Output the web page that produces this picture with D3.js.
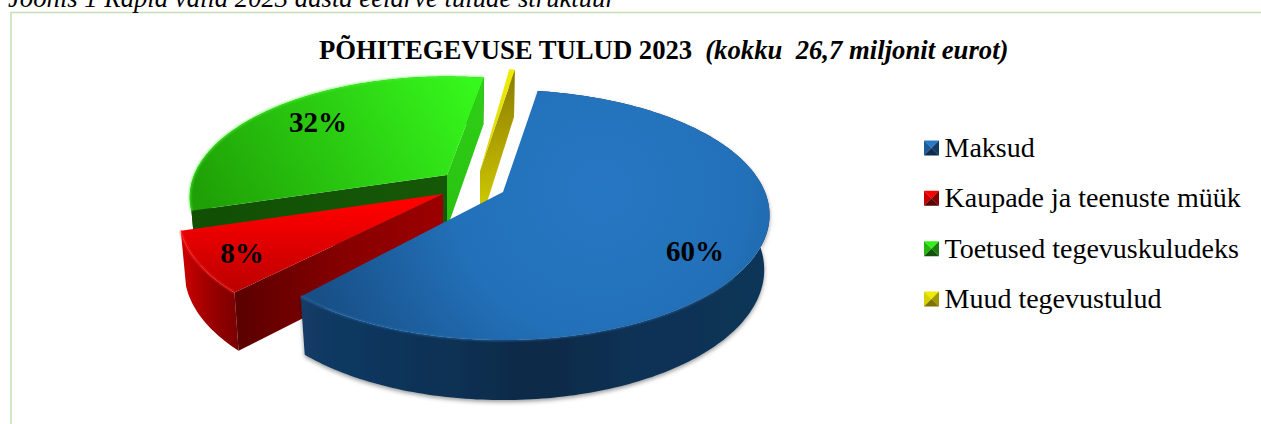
<!DOCTYPE html>
<html lang="et">

<head>
	<title>Põhitegevuse tulud 2023</title>
	<meta charset="utf-8">
	<script src="https://d3js.org/d3.v7.min.js"></script>
	<style>
		html, body { margin: 0; padding: 0; background: #fff; overflow: hidden; }
		text { font-family: "Liberation Serif", serif; fill: #000; white-space: pre; }
	</style>
</head>

<body>
	<div id="container"></div>
	<script>
		// Data
		const categories = ["Maksud", "Kaupade ja teenuste müük", "Toetused tegevuskuludeks", "Muud tegevustulud"];
		const shares = [59.8, 8, 31.8, 0.4];
		const caption = "Joonis 1 Rapla valla 2023 aasta eelarve tulude struktuur";
		const titleMain = "PÕHITEGEVUSE TULUD 2023";
		const titleNote = "(kokku  26,7 miljonit eurot)";

		// Exploded slice placement, screen position of each slice's tip
		const tipX = [503, 443, 447, 480];
		const tipY = [192, 194, 175, 171];
		const sliceScale = [1, 0.99, 0.965, 1];
		// Degrees added to the far end of a slice (the picture's perspective is not quite a true one)
		const endNudge = [-2.5, 0, 2.4, 0];
		// Which flat sides face the viewer
		const showStart = [false, true, true, false];
		const showEnd = [false, false, true, true];
		// Where the bevelled rim starts on each slice, in degrees past its start
		const rimFrom = [120, 0, 0, 0];
		const labelX = [695, 242, 318];
		const labelY = [261, 263, 132];

		// Slice colours
		const topColors = [
			["#2677c4", "#184f86"], ["#ff0000", "#b80000"], ["#36f81c", "#1fa006"], ["#f0ec00", "#d8d400"]
		];
		const edgeColors = ["#2a6bab", "#ff2a2a", "#48f530", "#f4f000"];
		const keyColors = [
			["#2a78c6", "#1c5a98", "#123a64", "#0d2c4d"],
			["#ff0000", "#c80000", "#800000", "#5a0000"],
			["#30f018", "#22b80e", "#1a7c10", "#0f5208"],
			["#f0ea00", "#d8d200", "#a09800", "#7c7400"]
		];

		const width = 1261;
		const height = 424;

		// Perspective of the disc: the front of the pie is nearer than the back
		const rx = 262;
		const ry = 120.8;
		const tilt = 0.184;
		const rad = Math.PI / 180;

		function project(i, angle, r, z) {
			const X = Math.sin(angle) * r;
			const Y = -Math.cos(angle) * r;
			const s = 1 / (1 - tilt * Y) * sliceScale[i];
			const depth = 53.5 + 6.5 * Y;
			return [
				tipX[i] + rx * X * s * (1 - 0.02 * z),
				tipY[i] + ry * Y * s + depth * z
			];
		}

		const line = d3.line();

		const pie = d3.pie()
			.sort(null)
			.startAngle(9 * rad)
			.endAngle(369 * rad);
		const slices = pie(shares).map((d, i) => ({
			...d,
			endAngle: d.endAngle + endNudge[i] * rad
		}));

		function arcPoints(i, d, z, from = 0) {
			const a0 = d.startAngle + from * rad;
			const n = Math.max(4, Math.ceil((d.endAngle - a0) / rad));
			return d3.range(n + 1).map(k => project(i, a0 + (d.endAngle - a0) * k / n, 1, z));
		}

		const svg = d3.select("#container")
			.append("svg")
			.attr("width", width)
			.attr("height", height)
			.style("display", "block");

		const defs = svg.append("defs");

		function linearGradient(id, x1, y1, x2, y2, stops) {
			const g = defs.append("linearGradient")
				.attr("id", id)
				.attr("gradientUnits", "userSpaceOnUse")
				.attr("x1", x1).attr("y1", y1).attr("x2", x2).attr("y2", y2);
			stops.forEach((c, k) => g.append("stop")
				.attr("offset", k / (stops.length - 1))
				.attr("stop-color", c));
		}

		// Top faces
		const blueTop = defs.append("radialGradient")
			.attr("id", "top0")
			.attr("gradientUnits", "userSpaceOnUse")
			.attr("cx", 600).attr("cy", 190).attr("r", 300);
		blueTop.append("stop").attr("offset", 0).attr("stop-color", topColors[0][0]);
		blueTop.append("stop").attr("offset", 0.5).attr("stop-color", "#2270b8");
		blueTop.append("stop").attr("offset", 1).attr("stop-color", topColors[0][1]);
		linearGradient("top1", 0, 205, 0, 295, topColors[1]);
		linearGradient("top2", 470, 80, 220, 230, topColors[2]);
		linearGradient("top3", 0, 70, 0, 170, topColors[3]);

		// Curved sides
		linearGradient("outer0", 300, 0, 770, 0, ["#123b66", "#0f3358", "#0c2a48", "#0f3256", "#103558"]);
		linearGradient("outer1", 180, 0, 240, 0, ["#d00000", "#9c0000", "#760000"]);
		linearGradient("outer2", 190, 0, 480, 0, ["#135406", "#135406"]);
		linearGradient("outer3", 510, 0, 515, 0, ["#a89c00", "#a89c00"]);

		// Flat sides
		linearGradient("startWall1", 443, 0, 240, 0, ["#9c0000", "#860000", "#5c0000"]);
		linearGradient("startWall2", 190, 0, 447, 0, ["#114f04", "#135406", "#155806"]);
		linearGradient("endWall2", 0, 80, 0, 215, ["#2fd016", "#2ac212"]);
		linearGradient("endWall3", 0, 75, 0, 215, ["#8c7e00", "#b0a400", "#d2ce00"]);

		const soft = defs.append("filter")
			.attr("id", "soft")
			.attr("x", "-5%").attr("y", "-5%").attr("width", "110%").attr("height", "110%");
		soft.append("feGaussianBlur").attr("stdDeviation", 0.8);

		const shadow = defs.append("filter")
			.attr("id", "shadow")
			.attr("x", "-5%").attr("y", "-5%").attr("width", "110%").attr("height", "115%");
		shadow.append("feDropShadow")
			.attr("dx", 0).attr("dy", 2)
			.attr("stdDeviation", 2)
			.attr("flood-color", "#000")
			.attr("flood-opacity", 0.4);

		// Page furniture
		svg.append("path")
			.attr("d", line([[width, 12.5], [11, 12.5], [11, height]]))
			.attr("fill", "none")
			.attr("stroke", "#c5e0b3")
			.attr("stroke-width", 1.5);

		svg.append("text")
			.attr("x", 8)
			.attr("y", 7)
			.style("font-size", "26.7px")
			.style("font-style", "italic")
			.text(caption);

		const title = svg.append("text")
			.attr("x", 319)
			.attr("y", 59)
			.style("font-size", "26.7px")
			.style("font-weight", "700");
		title.append("tspan").text(titleMain);
		title.append("tspan").attr("dx", 13).style("font-style", "italic").text(titleNote);

		// Slices, back to front
		const order = [3, 2, 1, 0];
		const wrapper = svg.append("g");

		order.forEach(i => {
			const d = slices[i];
			const g = wrapper.append("g").attr("class", "slice");

			const tipTop = project(i, 0, 0, 0);
			const tipBottom = [tipTop[0], tipTop[1] + 53.5];

			// Curved side
			const outer = arcPoints(i, d, 0).concat(arcPoints(i, d, 1).reverse());
			g.append("path")
				.attr("d", line(outer) + "Z")
				.attr("fill", `url(#outer${i})`)
				.attr("filter", i === 0 ? "url(#shadow)" : null);

			// Flat sides
			if (showStart[i]) {
				g.append("path")
					.attr("d", line([tipTop, project(i, d.startAngle, 1, 0), project(i, d.startAngle, 1, 1), tipBottom]) + "Z")
					.attr("fill", `url(#startWall${i})`);
			}
			if (showEnd[i]) {
				g.append("path")
					.attr("d", line([tipTop, project(i, d.endAngle, 1, 0), project(i, d.endAngle, 1, 1), tipBottom]) + "Z")
					.attr("fill", `url(#endWall${i})`);
			}

			// Top face
			g.append("path")
				.attr("d", line([tipTop].concat(arcPoints(i, d, 0))) + "Z")
				.attr("fill", `url(#top${i})`);

			// Bevelled rim
			g.append("path")
				.attr("d", line(arcPoints(i, d, 0, rimFrom[i])))
				.attr("fill", "none")
				.attr("stroke", edgeColors[i])
				.attr("stroke-width", 1.4)
				.attr("filter", "url(#soft)");
		});

		// Percent labels
		svg.selectAll(".label")
			.data(slices.filter(d => d.value >= 1))
			.enter()
			.append("text")
			.attr("class", "label")
			.attr("x", (d, i) => labelX[i])
			.attr("y", (d, i) => labelY[i])
			.attr("text-anchor", "middle")
			.style("font-size", "29px")
			.style("font-weight", "700")
			.text(d => `${Math.round(d.value)}%`);

		// Legend
		const legendY = d3.scalePoint()
			.domain(categories)
			.range([148, 299]);

		const legend = svg.selectAll(".legend")
			.data(categories)
			.enter()
			.append("g")
			.attr("class", "legend")
			.attr("transform", d => `translate(924,${legendY(d)})`);

		const keySize = 15;
		const keyFaces = [
			[[0, 0], [keySize, 0], [keySize / 2, keySize / 2]],
			[[0, 0], [0, keySize], [keySize / 2, keySize / 2]],
			[[keySize, 0], [keySize, keySize], [keySize / 2, keySize / 2]],
			[[0, keySize], [keySize, keySize], [keySize / 2, keySize / 2]]
		];

		legend.each(function (d, i) {
			const key = d3.select(this).append("g").attr("transform", `translate(0,${-keySize / 2})`);
			keyFaces.forEach((face, k) => key.append("path")
				.attr("d", line(face) + "Z")
				.attr("fill", keyColors[i][k]));
		});

		legend.append("text")
			.attr("x", 20.5)
			.attr("y", 9)
			.style("font-size", "28px")
			.text(d => d);
	</script>
</body>

</html>
